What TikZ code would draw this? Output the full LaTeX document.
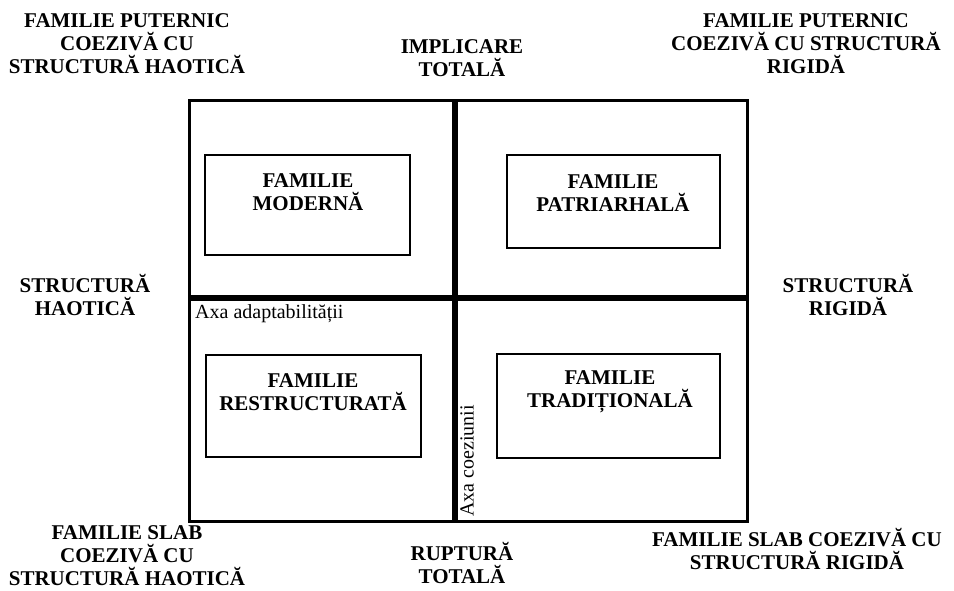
\documentclass[tikz,border=0pt]{standalone}
\usepackage{fontspec}
\setmainfont{Liberation Serif}
\begin{document}
\begin{tikzpicture}[x=1pt,y=-1pt,
  lbl/.style={font=\fontsize{21}{23}\selectfont\bfseries, align=center, inner sep=0pt},
  axis/.style={font=\fontsize{20}{23}\selectfont, inner sep=0pt},
  fambox/.style={draw, line width=1.5pt, inner sep=0pt},
  frame/.style={line width=3pt},
  divider/.style={line width=6pt}]
\useasboundingbox (0,0) rectangle (954,591);
% outer frame
\coordinate (tl) at (189.5,100.5);
\coordinate (br) at (747.5,521.5);
\draw[frame] (tl) rectangle (br);
% dividers
\coordinate (vt) at (455,100.5);
\coordinate (vb) at (455,521.5);
\coordinate (hl) at (189.5,298);
\coordinate (hr) at (747.5,298);
\draw[divider] (vt) -- (vb);
\draw[divider] (hl) -- (hr);
% inner boxes
\node[fambox, minimum width=205pt, minimum height=100pt] (b1) at (307.5,205) {};
\node[fambox, minimum width=213pt, minimum height=93pt] (b2) at (613.5,201.5) {};
\node[fambox, minimum width=215pt, minimum height=102pt] (b3) at (313.5,406) {};
\node[fambox, minimum width=223pt, minimum height=104pt] (b4) at (608.5,406) {};
\node[lbl] (t1) at (308,192) {FAMILIE\\MODERNĂ};
\node[lbl] (t2) at (613,193.5) {FAMILIE\\PATRIARHALĂ};
\node[lbl] (t3) at (313,392) {FAMILIE\\RESTRUCTURATĂ};
\node[lbl] (t4) at (610,391.5) {FAMILIE\\TRADIȚIONALĂ};
% axis labels
\node[axis, anchor=west] (ax1) at (195,314) {Axa adaptabilității};
\node[axis, rotate=90, anchor=west] (ax2) at (467,517) {Axa coeziunii};
% outside labels
\node[lbl] (l1) at (127,43.5) {FAMILIE PUTERNIC\\COEZIVĂ CU\\STRUCTURĂ HAOTICĂ};
\node[lbl] (l2) at (806,43.5) {FAMILIE PUTERNIC\\COEZIVĂ CU STRUCTURĂ\\RIGIDĂ};
\node[lbl] (l3) at (462,58) {IMPLICARE\\TOTALĂ};
\node[lbl] (l4) at (85,295) {STRUCTURĂ\\HAOTICĂ};
\node[lbl] (l5) at (848,295) {STRUCTURĂ\\RIGIDĂ};
\node[lbl] (l6) at (127,556) {FAMILIE SLAB\\COEZIVĂ CU\\STRUCTURĂ HAOTICĂ};
\node[lbl] (l7) at (462,563) {RUPTURĂ\\TOTALĂ};
\node[lbl] (l8) at (797,548.5) {FAMILIE SLAB COEZIVĂ CU\\STRUCTURĂ RIGIDĂ};
\end{tikzpicture}
\end{document}
